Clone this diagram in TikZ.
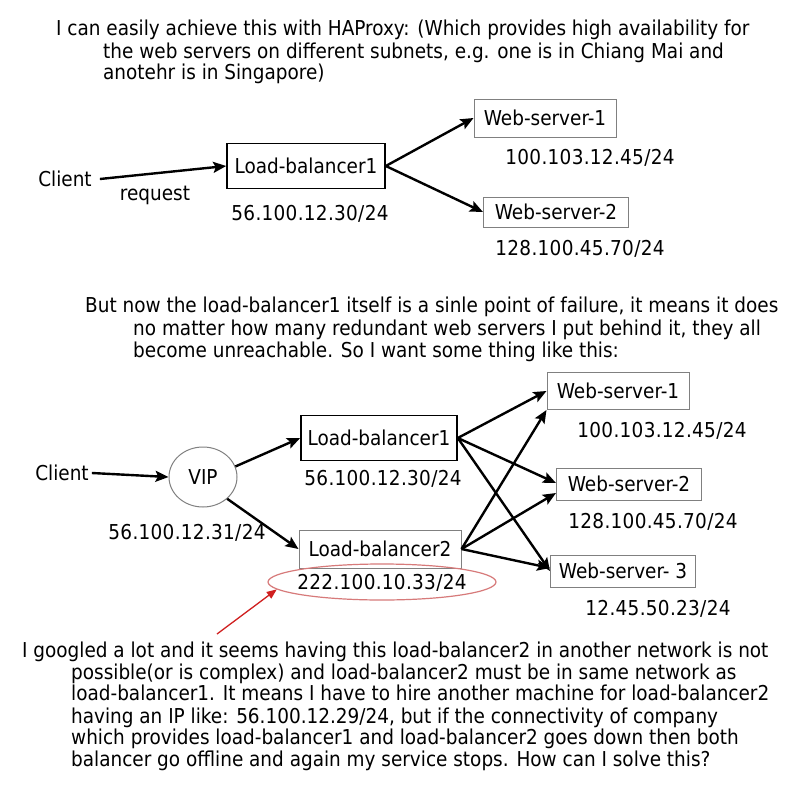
\documentclass[tikz,border=0pt]{standalone}
\usepackage{fontspec}
\setmainfont{DejaVu Sans Condensed}
\newfontfamily\ipfont{DejaVu Sans Condensed}[LetterSpace=1.5]
\usetikzlibrary{arrows.meta,positioning,shapes.geometric}
\definecolor{boxGray}{HTML}{808080}
\definecolor{ringRed}{HTML}{D77A7A}
\definecolor{pointRed}{HTML}{D02020}

\begin{document}
\begin{tikzpicture}[x=1pt, y=-1pt,
    every node/.style={font=\fontsize{20.5}{24}\selectfont, inner sep=0pt, text height=17pt, text depth=3pt},
    line/.style={anchor=west},
    addr/.style={font=\fontsize{20.5}{24}\ipfont},
    mainbox/.style={draw=black, line width=1.6pt, minimum height=45pt},
    srvbox/.style={draw=boxGray, line width=1pt},
    link/.style={line width=2.4pt, -{Stealth[length=13pt, width=11pt, inset=2.5pt]}}]
  \useasboundingbox[fill=white] (0,0) rectangle (800,800);

  % first question
  \node[line] (q1a) at (56,29) {I can easily achieve this with HAProxy: (Which provides high availability for};
  \node[line] (q1b) at (103,52) {the web servers on different subnets, e.g. one is in Chiang Mai and};
  \node[line] (q1c) at (103,73) {anotehr is in Singapore)};

  % single balancer
  \node (cl1) at (65,179) {Client};
  \node[mainbox, minimum width=158pt] (lbA) at (306,166) {Load-balancer1};
  \node[srvbox, minimum width=142pt, minimum height=38pt] (wsA1) at (545,118) {Web-server-1};
  \node[srvbox, minimum width=145pt, minimum height=30pt] (wsA2) at (556,212) {Web-server-2};
  \node (req) at (155,193) {request};
  \node[addr] (ipA) at (310,213) {56.100.12.30/24};
  \node[addr] (ipA1) at (590,157) {100.103.12.45/24};
  \node[addr] (ipA2) at (580,248) {128.100.45.70/24};

  \draw[link] ([xshift=8pt]cl1.east) -- (lbA.west);
  \draw[link] (lbA.east) -- (wsA1.west);
  \draw[link] (lbA.east) -- (wsA2.west);

  % second question
  \node[line] (q2a) at (85,305) {But now the load-balancer1 itself is a sinle point of failure, it means it does};
  \node[line] (q2b) at (133,328) {no matter how many redundant web servers I put behind it, they all};
  \node[line] (q2c) at (133,350) {become unreachable. So I want some thing like this:};

  % two balancers behind a VIP
  \node (cl2) at (62,473) {Client};
  \node[ellipse, draw=boxGray, line width=1pt, minimum width=68pt, minimum height=60pt] (vip) at (203,477) {VIP};
  \node[mainbox, minimum width=156pt] (lbB1) at (379,438) {Load-balancer1};
  \node[srvbox, minimum width=162pt, minimum height=38pt] (lbB2) at (380,549) {Load-balancer2};
  \node[srvbox, minimum width=142pt, minimum height=37pt] (wsB1) at (618,391) {Web-server-1};
  \node[srvbox, minimum width=145pt, minimum height=32pt] (wsB2) at (629,484) {Web-server-2};
  \node[srvbox, minimum width=145pt, minimum height=32pt] (wsB3) at (623,571) {Web-server- 3};
  \node[addr] (ipB1) at (383,478) {56.100.12.30/24};
  \node[addr] (ipV) at (187,532) {56.100.12.31/24};
  \node[addr, ellipse, draw=ringRed, line width=1.2pt, inner xsep=-4pt, minimum width=206pt, minimum height=36pt] (ipB2) at (382,582) {222.100.10.33/24};
  \node[addr] (ipW1) at (662,430) {100.103.12.45/24};
  \node[addr] (ipW2) at (653,521) {128.100.45.70/24};
  \node[addr] (ipW3) at (658,608) {12.45.50.23/24};

  \draw[link] ([xshift=3pt]cl2.east) -- (vip.west);
  \draw[link] (vip.18) -- (lbB1.west);
  \draw[link] (vip.-42) -- (lbB2.west);
  \draw[link] (lbB1.east) -- (wsB1.west);
  \draw[link] (lbB1.east) -- ([yshift=1pt]wsB2.west);
  \draw[link] (lbB1.east) -- (wsB3.west);
  \draw[link] (lbB2.east) -- (wsB1.south west);
  \draw[link] (lbB2.east) -- ([yshift=-9pt]wsB2.west);
  \draw[link] (lbB2.east) -- ([yshift=3pt]wsB3.west);

  \coordinate (tail) at (217,634);
  \draw[pointRed, line width=1.3pt, -{Triangle[length=10pt, width=8pt]}] (tail) -- (ipB2.184);

  % third question
  \node[line] (q3a) at (22,650) {I googled a lot and it seems having this load-balancer2 in another network is not};
  \node[line] (q3b) at (71,672) {possible(or is complex) and load-balancer2 must be in same network as};
  \node[line] (q3c) at (71,693) {load-balancer1. It means I have to hire another machine for load-balancer2};
  \node[line] (q3d) at (71,716) {having an IP like: 56.100.12.29/24, but if the connectivity of company};
  \node[line] (q3e) at (71,737) {which provides load-balancer1 and load-balancer2 goes down then both};
  \node[line] (q3f) at (71,759) {balancer go offline and again my service stops. How can I solve this?};
\end{tikzpicture}
\end{document}
